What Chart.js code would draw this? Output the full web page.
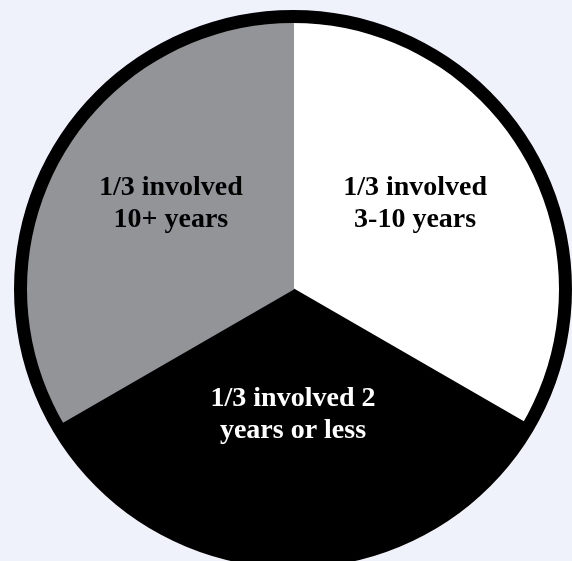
<!DOCTYPE html>
<html>
<head>
<meta charset="utf-8">
<script src="https://cdn.jsdelivr.net/npm/chart.js@4/dist/chart.umd.min.js"></script>
<style>
    html, body { margin: 0; padding: 0; background: #eff2fa; overflow: hidden; }
    canvas { display: block; }
</style>
</head>
<body>
<canvas id="grafico" width="586" height="578"></canvas>
<script>
// datos
const categorias = [
    ["1/3 involved", "3-10 years"],
    ["1/3 involved 2", "years or less"],
    ["1/3 involved", "10+ years"]
];
const valores = [1, 1, 1];
const colores = ["#ffffff", "#000000", "#939498"];
const coloresTexto = ["#000000", "#ffffff", "#000000"];

// etiquetas dentro de cada porción
const etiquetas = {
    id: "etiquetas",
    afterDatasetsDraw(chart) {
        const ctx = chart.ctx;
        const arcos = chart.getDatasetMeta(1).data;
        ctx.save();
        ctx.font = "bold 28px 'Liberation Serif', 'Times New Roman', serif";
        ctx.textAlign = "center";
        ctx.textBaseline = "middle";
        arcos.forEach((arco, i) => {
            const medio = (arco.startAngle + arco.endAngle) / 2;
            const r = arco.outerRadius * 0.53;
            const x = arco.x + Math.cos(medio) * r;
            const y = arco.y + Math.sin(medio) * r - 15;
            const lineas = categorias[i];
            ctx.fillStyle = coloresTexto[i];
            lineas.forEach((txt, j) => {
                ctx.fillText(txt, x, y + (j - (lineas.length - 1) / 2) * 32);
            });
        });
        ctx.restore();
    }
};

document.addEventListener("DOMContentLoaded", () => {
    const ctx = document.getElementById("grafico").getContext("2d");

    new Chart(ctx, {
        type: "pie",
        data: {
            labels: categorias.map(c => c.join(" ")),
            datasets: [
                {
                    // anillo negro exterior
                    data: [1],
                    backgroundColor: "#000000",
                    borderWidth: 0,
                    weight: 13
                },
                {
                    data: valores,
                    backgroundColor: colores,
                    borderColor: colores,
                    borderWidth: 2,
                    weight: 266
                }
            ]
        },
        options: {
            responsive: false,
            animation: false,
            radius: 279,
            layout: { padding: 0 },
            plugins: {
                legend: { display: false },
                tooltip: { enabled: false }
            }
        },
        plugins: [etiquetas]
    });
});
</script>
</body>
</html>
